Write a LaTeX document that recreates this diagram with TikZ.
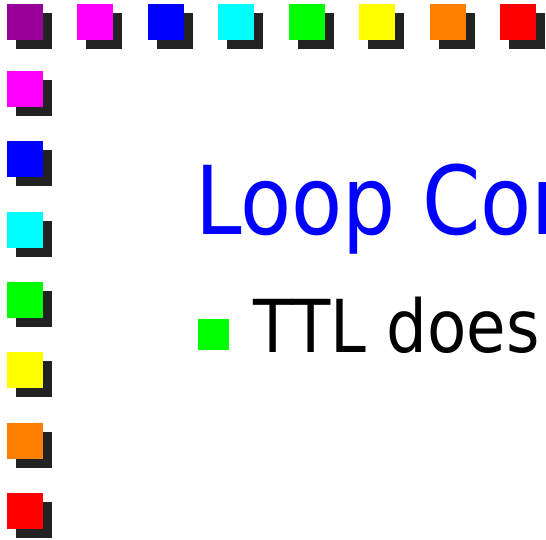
\documentclass[tikz,border=0pt]{standalone}
\usepackage{fontspec}
\newfontfamily\slidefont[FakeStretch=0.88]{DejaVu Sans}
\definecolor{sqpurple}{HTML}{990099}
\definecolor{sqmagenta}{HTML}{FF00FF}
\definecolor{sqblue}{HTML}{0000FF}
\definecolor{sqcyan}{HTML}{00FFFF}
\definecolor{sqgreen}{HTML}{00FF00}
\definecolor{sqyellow}{HTML}{FFFF00}
\definecolor{sqorange}{HTML}{FF8000}
\definecolor{sqred}{HTML}{FF0000}
\definecolor{shadowgrey}{HTML}{222222}
\begin{document}
\begin{tikzpicture}[x=1pt,y=-1pt,
  sq/.style={minimum size=36pt, inner sep=0pt, outer sep=0pt, anchor=north west, draw=none},
  sqshadow/.style={sq, fill=shadowgrey},
  bulletsq/.style={minimum size=31pt, inner sep=0pt, anchor=north west, fill=sqgreen},
  titletext/.style={anchor=base west, inner sep=0pt, text=sqblue, font=\slidefont\fontsize{95}{95}\selectfont},
  bodytext/.style={anchor=base west, inner sep=0pt, text=black, font=\slidefont\fontsize{73}{73}\selectfont}]
\useasboundingbox (0,0) rectangle (546,539);
\clip (0,0) rectangle (546,539);
% top row of shadowed squares
\foreach \c [count=\i from 0] in {sqpurple,sqmagenta,sqblue,sqcyan,sqgreen,sqyellow,sqorange,sqred}{
  \pgfmathsetmacro{\xx}{7+70.43*\i}
  \node[sqshadow] (top\i-shadow) at (\xx+9,13) {};
  \node[sq, fill=\c] (top\i) at (\xx,4) {};
}
% left column of shadowed squares
\foreach \c [count=\i from 1] in {sqmagenta,sqblue,sqcyan,sqgreen,sqyellow,sqorange,sqred}{
  \pgfmathsetmacro{\yy}{71+70.33*(\i-1)}
  \node[sqshadow] (left\i-shadow) at (16,\yy+9) {};
  \node[sq, fill=\c] (left\i) at (7,\yy) {};
}
% title and first bullet
\node[titletext] (title) at (195,234.3) {Loop Con};
\node[bulletsq] (bullet1) at (197.3,318.3) {};
\node[bodytext] (item1) at (253,352.3) {TTL does};
\end{tikzpicture}
\end{document}
